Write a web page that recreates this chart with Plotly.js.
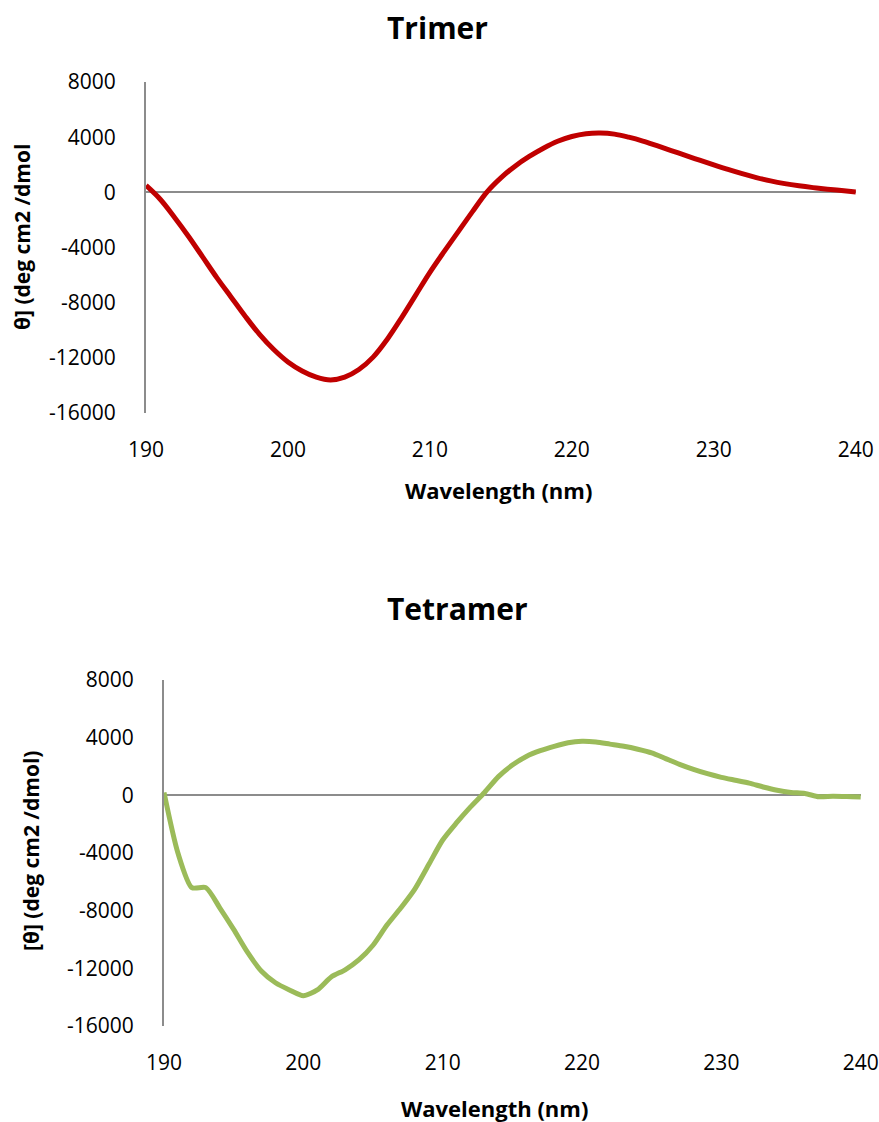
<!DOCTYPE html>
<html>
<head>
<meta charset="utf-8">
<script src="https://cdn.plot.ly/plotly-3.0.1.min.js"></script>
<style>html,body{margin:0;padding:0;background:#fff;}#chart{width:879px;height:1122px;}</style>
</head>
<body>
<div id="chart"></div>
<script>
// Wavelength (nm)
const trimerWavelength = [190,191,192,193,194,195,196,197,198,199,200,201,202,203,204,205,206,207,208,209,210,211,212,213,214,215,216,217,218,219,220,221,222,223,224,225,226,227,228,229,230,231,232,233,234,235,236,237,238,239,240];
// Trimer ellipticity
const trimerTheta = [500,-500,-1800,-3200,-4700,-6200,-7600,-9000,-10300,-11400,-12300,-12950,-13400,-13600,-13400,-12850,-11950,-10650,-9100,-7450,-5800,-4300,-2850,-1400,0,1050,1900,2600,3200,3700,4050,4250,4300,4220,4000,3720,3380,3030,2680,2330,1990,1660,1350,1070,830,630,470,340,230,130,30];

const tetramerWavelength = [190,191,192,193,194,195,196,197,198,199,200,201,202,203,204,205,206,207,208,209,210,211,212,213,214,215,216,217,218,219,220,221,222,223,224,225,226,227,228,229,230,231,232,233,234,235,236,237,238,239,240];
const tetramerTheta = [200,-4000,-6400,-6400,-7800,-9300,-10900,-12200,-13000,-13500,-13900,-13500,-12600,-12100,-11400,-10400,-9000,-7800,-6500,-4800,-3100,-1900,-800,200,1300,2100,2700,3100,3400,3650,3750,3700,3550,3400,3200,2950,2550,2150,1800,1500,1250,1050,850,580,350,200,130,-100,-60,-80,-120];

const xTicks = [190,200,210,220,230,240];
const yTicks = [8000,4000,0,-4000,-8000,-12000,-16000];

const chartTitles = ["Trimer","Tetramer"];
const xTitle = "Wavelength (nm)";
const yTitles = ["θ] (deg cm2 /dmol","[θ] (deg cm2 /dmol)"];

const FONT = "Open Sans, Noto Sans, sans-serif";
const W = 879, H = 1122;

const data = [
  {x: trimerWavelength, y: trimerTheta, type: 'scatter', mode: 'lines',
   line: {color: '#C00000', width: 5, shape: 'spline', smoothing: 1},
   xaxis: 'x', yaxis: 'y', hoverinfo: 'x+y'},
  {x: tetramerWavelength, y: tetramerTheta, type: 'scatter', mode: 'lines',
   line: {color: '#9BBB59', width: 5, shape: 'spline', smoothing: 0.7},
   xaxis: 'x2', yaxis: 'y2', hoverinfo: 'x+y'}
];

function xAxis(domain, anchor) {
  return {
    domain: domain, anchor: anchor, range: [190, 240.02],
    tickvals: xTicks, ticktext: xTicks.map(String),
    showline: false, showgrid: false, zeroline: false,
    ticks: 'outside', ticklen: 18, tickcolor: 'rgba(0,0,0,0)',
    tickfont: {family: FONT, size: 21, color: '#000'},
    fixedrange: true
  };
}
function yAxis(domain, anchor) {
  return {
    domain: domain, anchor: anchor, range: [-16000, 8000],
    tickvals: yTicks, ticktext: yTicks.map(String),
    showline: true, linecolor: '#8c8c8c', linewidth: 2,
    showgrid: false, zeroline: true, zerolinecolor: '#8c8c8c', zerolinewidth: 2,
    ticks: 'outside', ticklen: 24, tickcolor: 'rgba(0,0,0,0)',
    tickfont: {family: FONT, size: 21, color: '#000'},
    fixedrange: true
  };
}

const layout = {
  width: W, height: H,
  margin: {l: 0, r: 0, t: 0, b: 0},
  paper_bgcolor: '#fff', plot_bgcolor: 'rgba(0,0,0,0)',
  showlegend: false,
  xaxis: xAxis([146/W, 856/W], 'y'),
  yaxis: yAxis([1 - 413/H, 1 - 82/H], 'x'),
  xaxis2: xAxis([164/W, 861/W], 'y2'),
  yaxis2: yAxis([1 - 1026/H, 1 - 680/H], 'x2'),
  annotations: [
    {text: '<b>' + chartTitles[0] + '</b>', xref: 'paper', yref: 'paper', x: 437/W, y: 1 - 28/H,
     xanchor: 'center', yanchor: 'middle', showarrow: false, font: {family: FONT, size: 30, color: '#000'}},
    {text: '<b>' + chartTitles[1] + '</b>', xref: 'paper', yref: 'paper', x: 457/W, y: 1 - 609/H,
     xanchor: 'center', yanchor: 'middle', showarrow: false, font: {family: FONT, size: 30, color: '#000'}},
    {text: '<b>' + xTitle + '</b>', xref: 'paper', yref: 'paper', x: 498/W, y: 1 - 490/H,
     xanchor: 'center', yanchor: 'middle', showarrow: false, font: {family: FONT, size: 22, color: '#000'}},
    {text: '<b>' + xTitle + '</b>', xref: 'paper', yref: 'paper', x: 494/W, y: 1 - 1108/H,
     xanchor: 'center', yanchor: 'middle', showarrow: false, font: {family: FONT, size: 22, color: '#000'}},
    {text: '<b>' + yTitles[0] + '</b>', xref: 'paper', yref: 'paper', x: 22/W, y: 1 - 237/H, textangle: -90,
     xanchor: 'center', yanchor: 'middle', showarrow: false, font: {family: FONT, size: 21, color: '#000'}},
    {text: '<b>' + yTitles[1] + '</b>', xref: 'paper', yref: 'paper', x: 31/W, y: 1 - 851/H, textangle: -90,
     xanchor: 'center', yanchor: 'middle', showarrow: false, font: {family: FONT, size: 21, color: '#000'}}
  ]
};

Plotly.newPlot('chart', data, layout, {displayModeBar: false, staticPlot: true});
</script>
</body>
</html>
